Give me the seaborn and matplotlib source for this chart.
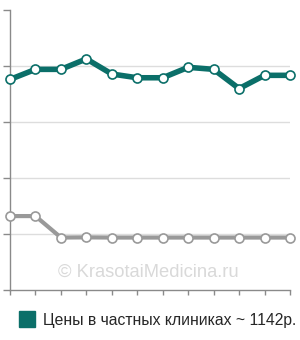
import matplotlib
matplotlib.use('Agg')
import matplotlib.pyplot as plt
import pandas as pd
import seaborn as sns
from matplotlib.lines import Line2D

# Price history (rubles), 12 observation points, no axis labels in the original
points = list(range(12))
private_prices = [1128, 1182, 1182, 1238, 1157, 1137, 1137, 1193, 1182, 1079, 1150, 1150]
public_prices = [396, 396, 281, 282, 281, 281, 281, 281, 281, 281, 281, 281]
y_ticks = [0, 300, 600, 900, 1200, 1500]

TEAL = '#0b6f69'
GREY = '#999999'
AXIS = '#8a8a8a'

sns.set_style('white')
plt.rcParams['font.family'] = ['Liberation Sans', 'DejaVu Sans']

df = pd.DataFrame({
    'point': points * 2,
    'price': private_prices + public_prices,
    'series': ['private'] * len(points) + ['public'] * len(points),
})

fig = plt.figure(figsize=(3.0, 3.4), dpi=100)
ax = fig.add_axes([10 / 300, 50 / 340, 280 / 300, 280 / 340])

sns.lineplot(data=df, x='point', y='price', hue='series',
             palette={'private': TEAL, 'public': GREY},
             linewidth=0, legend=False, ax=ax)
for series, color, lw in [('private', TEAL, 4.0), ('public', GREY, 3.0)]:
    sub = df[df['series'] == series]
    ax.plot(sub['point'], sub['price'], color=color, lw=lw, zorder=3,
            solid_capstyle='round', clip_on=False)
    ax.plot(sub['point'], sub['price'], ls='none', marker='o', ms=6.5,
            mfc='white', mec=color, mew=1.2, zorder=4, clip_on=False)

ax.set_xlim(points[0], points[-1])
ax.set_ylim(y_ticks[0], y_ticks[-1])
ax.set_xticks(points)
ax.set_yticks(y_ticks)
ax.set_xticklabels([])
ax.set_yticklabels([])
ax.set_xlabel('')
ax.set_ylabel('')
for y in y_ticks[1:-1]:
    ax.axhline(y, color='#dddddd', lw=1, zorder=1)

for side in ['top', 'right']:
    ax.spines[side].set_visible(False)
for side in ['left', 'bottom']:
    ax.spines[side].set_color(AXIS)
    ax.spines[side].set_linewidth(1)
ax.tick_params(axis='y', direction='out', length=5, width=1, color=AXIS, left=True)
ax.tick_params(axis='x', direction='out', length=3.5, width=1, color=AXIS, bottom=True)

fig.text(0.495, (340 - 272) / 340, '© KrasotaiMedicina.ru', ha='center', va='center',
         fontsize=13.2, color='#d9d9d9')

handle = Line2D([], [], ls='none', marker='s', ms=11.5, mfc=TEAL, mec=TEAL)
fig.legend([handle], ['Цены в частных клиниках ~ 1142р.'], loc='center left',
           bbox_to_anchor=(12 / 300, (340 - 320) / 340), frameon=False,
           fontsize=11.3, handlelength=0.9, handletextpad=0.55, borderpad=0)

fig.savefig('out.png', dpi=100)
